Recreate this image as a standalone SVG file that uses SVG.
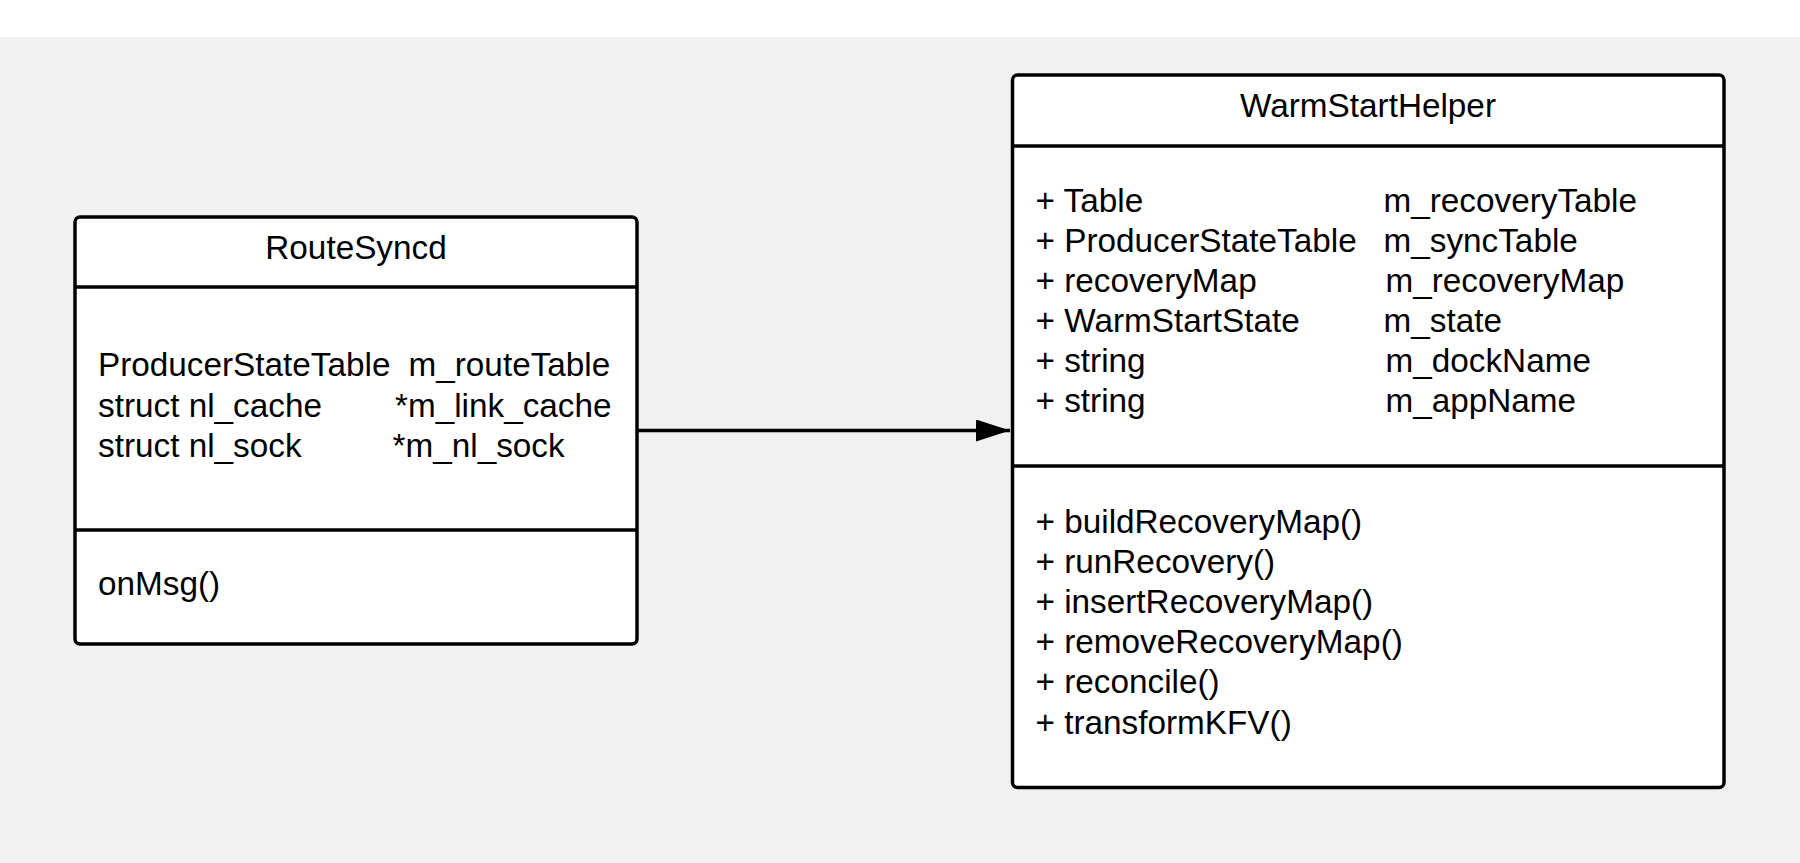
<svg xmlns="http://www.w3.org/2000/svg" width="1800" height="863" viewBox="0 0 1800 863">
<defs>
<style>
.box{fill:#ffffff;stroke:#000000;stroke-width:3.5}
.div{stroke:#000000;stroke-width:3.5;fill:none}
.t{font-family:"Liberation Sans",Arial,sans-serif;font-size:33.3px;fill:#000000}
.c{text-anchor:middle}
.edge{stroke:#000000;stroke-width:3.5;fill:none}
</style>
<marker id="arr" markerUnits="userSpaceOnUse" markerWidth="36" markerHeight="24" refX="34" refY="11" orient="auto">
<path d="M0,0 L34,11 L0,22 Z" fill="#000000"/>
</marker>
</defs>
<rect x="0" y="0" width="1800" height="863" fill="#ffffff"/>
<rect x="0" y="37" width="1800" height="826" fill="#f1f1f1"/>
<g id="connectors">
<line class="edge" x1="637" y1="430.5" x2="1010" y2="430.5" marker-end="url(#arr)"/>
</g>
<g id="RouteSyncd">
<rect class="box" x="75" y="217" width="562" height="427" rx="5"/>
<line class="div" x1="75" y1="287" x2="637" y2="287"/>
<line class="div" x1="75" y1="530" x2="637" y2="530"/>
<text class="t c" x="356" y="259">RouteSyncd</text>
<text class="t" x="98" y="376">ProducerStateTable</text>
<text class="t" x="408.5" y="376">m_routeTable</text>
<text class="t" x="98" y="416.5">struct nl_cache</text>
<text class="t" x="395" y="416.5">*m_link_cache</text>
<text class="t" x="98" y="457">struct nl_sock</text>
<text class="t" x="392.5" y="457">*m_nl_sock</text>
<text class="t" x="98" y="595">onMsg()</text>
</g>
<g id="WarmStartHelper">
<rect class="box" x="1012.5" y="75" width="711.5" height="712.5" rx="5"/>
<line class="div" x1="1012.5" y1="146" x2="1724" y2="146"/>
<line class="div" x1="1012.5" y1="466" x2="1724" y2="466"/>
<text class="t c" x="1368" y="117">WarmStartHelper</text>
<text class="t" x="1035.5" y="212">+ Table</text>
<text class="t" x="1383.5" y="212">m_recoveryTable</text>
<text class="t" x="1035.5" y="252">+ ProducerStateTable</text>
<text class="t" x="1383.5" y="252">m_syncTable</text>
<text class="t" x="1035.5" y="292">+ recoveryMap</text>
<text class="t" x="1385.5" y="292">m_recoveryMap</text>
<text class="t" x="1035.5" y="332">+ WarmStartState</text>
<text class="t" x="1383.5" y="332">m_state</text>
<text class="t" x="1035.5" y="372">+ string</text>
<text class="t" x="1385.5" y="372">m_dockName</text>
<text class="t" x="1035.5" y="412">+ string</text>
<text class="t" x="1385.5" y="412">m_appName</text>
<text class="t" x="1035.5" y="532.5">+ buildRecoveryMap()</text>
<text class="t" x="1035.5" y="572.7">+ runRecovery()</text>
<text class="t" x="1035.5" y="612.9">+ insertRecoveryMap()</text>
<text class="t" x="1035.5" y="653.1">+ removeRecoveryMap()</text>
<text class="t" x="1035.5" y="693.3">+ reconcile()</text>
<text class="t" x="1035.5" y="733.5">+ transformKFV()</text>
</g>
</svg>
